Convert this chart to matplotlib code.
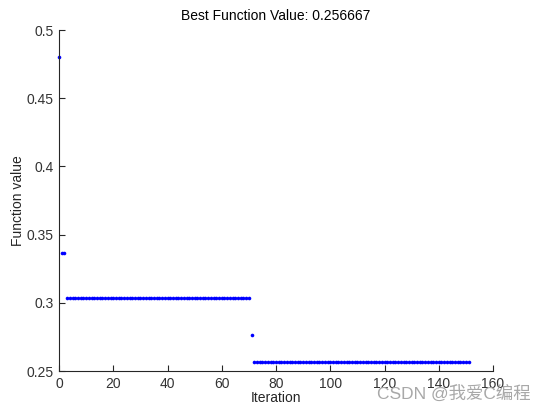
import matplotlib
matplotlib.use("Agg")
import matplotlib.pyplot as plt
import numpy as np

# Data: best function value per iteration
segment_starts = [0, 1, 3, 71, 72]
segment_ends = [0, 2, 70, 71, 151]
segment_values = [0.48, 0.336667, 0.303333, 0.276667, 0.256667]

x_ticks = [0, 20, 40, 60, 80, 100, 120, 140, 160]
y_ticks = [0.25, 0.3, 0.35, 0.4, 0.45, 0.5]
y_tick_labels = ["0.25", "0.3", "0.35", "0.4", "0.45", "0.5"]

iters = []
vals = []
for s, e, v in zip(segment_starts, segment_ends, segment_values):
    for i in range(s, e + 1):
        iters.append(i)
        vals.append(v)

plt.rcParams['font.family'] = ['Liberation Sans', 'DejaVu Sans']

fig = plt.figure(figsize=(5.39, 4.11), dpi=100)
ax = fig.add_axes([0.1095, 0.0973, 0.8052, 0.8297])
ax.plot(iters, vals, linestyle='none', marker='o', markersize=2.6,
        color='blue', markeredgewidth=0, clip_on=False)

ax.set_xlim(0, 160)
ax.set_ylim(0.25, 0.5)
ax.set_xticks(x_ticks)
ax.set_yticks(y_ticks)
ax.set_yticklabels(y_tick_labels)
ax.tick_params(direction='in', length=4, width=0.8, labelsize=10,
               colors='#262626', labelcolor='#333333', pad=4)
ax.spines['top'].set_visible(False)
ax.spines['right'].set_visible(False)
for sp in ['left', 'bottom']:
    ax.spines[sp].set_color('#262626')
    ax.spines[sp].set_linewidth(0.8)

ax.set_xlabel('Iteration', fontsize=10, labelpad=0, color='#262626')
ax.set_ylabel('Function value', fontsize=10, labelpad=1, color='#262626')
ax.set_title('Best Function Value: 0.256667', fontsize=10, pad=7)

fig.text(0.985, 0.022, 'CSDN @我爱C编程', ha='right', va='bottom', fontsize=12.5,
         color='#a8a8a8', family=['Liberation Sans', 'Noto Sans CJK SC'])

fig.savefig('out.png', dpi=100)
